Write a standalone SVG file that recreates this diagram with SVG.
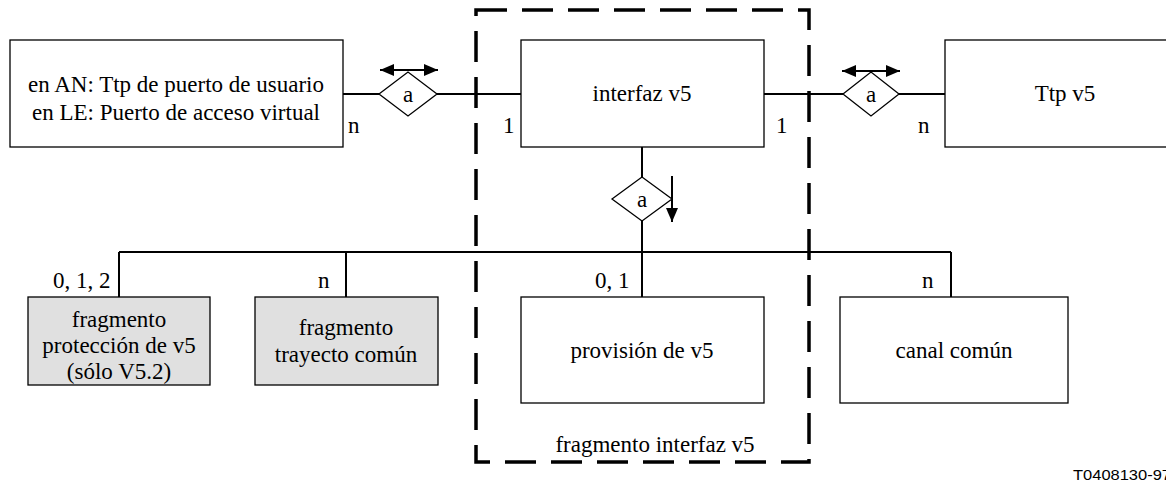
<svg xmlns="http://www.w3.org/2000/svg" width="1166" height="484" viewBox="0 0 1166 484">
<style>
.box{fill:#fff;stroke:#000;stroke-width:1.3}
.grey{fill:#e0e0e0;stroke:#000;stroke-width:1.3}
.dia{fill:#fff;stroke:#000;stroke-width:1.3}
.ln{stroke:#000;stroke-width:2;fill:none}
.t{font-family:"Liberation Serif","Times New Roman",serif;font-size:23px;fill:#000}
.c{text-anchor:middle}
.id{font-family:"Liberation Sans",Arial,sans-serif;font-size:14px;fill:#000}
</style>
<defs>
<marker id="ah" viewBox="0 0 14 12" refX="14" refY="6" markerWidth="14" markerHeight="12" markerUnits="userSpaceOnUse" orient="auto-start-reverse">
<path d="M0,0 L14,6 L0,12 Z" fill="#000"/>
</marker>
</defs>
<g id="fragment-border">
<rect x="476" y="10" width="333" height="452" fill="none" stroke="#000" stroke-width="3.5" stroke-dasharray="31 15"/>
<text class="t c" x="655" y="452">fragmento interfaz v5</text>
</g>
<g id="connectors">
<line class="ln" x1="343" y1="94" x2="379" y2="94"/>
<line class="ln" x1="437" y1="94" x2="521" y2="94"/>
<line class="ln" x1="764" y1="94" x2="843" y2="94"/>
<line class="ln" x1="899" y1="94" x2="945" y2="94"/>
<line class="ln" x1="642" y1="147" x2="642" y2="178"/>
<line class="ln" x1="642" y1="220" x2="642" y2="252"/>
<line class="ln" x1="119" y1="252" x2="951" y2="252"/>
<line class="ln" x1="119" y1="252" x2="119" y2="297"/>
<line class="ln" x1="346" y1="252" x2="346" y2="297"/>
<line class="ln" x1="642" y1="252" x2="642" y2="297"/>
<line class="ln" x1="951" y1="252" x2="951" y2="297"/>
<line class="ln" x1="380" y1="70" x2="438" y2="70" marker-start="url(#ah)" marker-end="url(#ah)"/>
<line class="ln" x1="842" y1="71" x2="900" y2="71" marker-start="url(#ah)" marker-end="url(#ah)"/>
<line class="ln" x1="672" y1="176" x2="672" y2="222" marker-end="url(#ah)"/>
<text class="t" x="348" y="133">n</text>
<text class="t" x="503" y="133">1</text>
<text class="t" x="776" y="133">1</text>
<text class="t" x="918" y="133">n</text>
<text class="t" x="53" y="288">0, 1, 2</text>
<text class="t" x="318" y="288">n</text>
<text class="t" x="595" y="288">0, 1</text>
<text class="t" x="922" y="288">n</text>
</g>
<g id="node-user-port">
<rect class="box" x="10" y="40" width="333" height="107"/>
<text class="t c" x="176" y="92">en AN: Ttp de puerto de usuario</text>
<text class="t c" x="176" y="120">en LE: Puerto de acceso virtual</text>
</g>
<g id="rel-a-left">
<polygon class="dia" points="379,94 408,72 437,94 408,116"/>
<text class="t c" x="408" y="102">a</text>
</g>
<g id="node-interfaz">
<rect class="box" x="521" y="40" width="243" height="107"/>
<text class="t c" x="642" y="101">interfaz v5</text>
</g>
<g id="rel-a-right">
<polygon class="dia" points="843,94 871,72 899,94 871,116"/>
<text class="t c" x="871" y="102">a</text>
</g>
<g id="node-ttp">
<rect class="box" x="945" y="40" width="245" height="107"/>
<text class="t c" x="1065" y="101">Ttp v5</text>
</g>
<g id="rel-a-mid">
<polygon class="dia" points="612,199 642,177 672,199 642,221"/>
<text class="t c" x="642" y="207">a</text>
</g>
<g id="node-proteccion">
<rect class="grey" x="28" y="297" width="182" height="88"/>
<text class="t c" x="119" y="327">fragmento</text>
<text class="t c" x="119" y="353">protección de v5</text>
<text class="t c" x="119" y="379">(sólo V5.2)</text>
</g>
<g id="node-trayecto">
<rect class="grey" x="255" y="297" width="183" height="88"/>
<text class="t c" x="346" y="335">fragmento</text>
<text class="t c" x="346" y="362">trayecto común</text>
</g>
<g id="node-provision">
<rect class="box" x="521" y="297" width="243" height="106"/>
<text class="t c" x="642" y="358">provisión de v5</text>
</g>
<g id="node-canal">
<rect class="box" x="840" y="297" width="228" height="106"/>
<text class="t c" x="954" y="358">canal común</text>
</g>
<text class="id" x="1073" y="480" textLength="98" lengthAdjust="spacingAndGlyphs">T0408130-97</text>
</svg>
